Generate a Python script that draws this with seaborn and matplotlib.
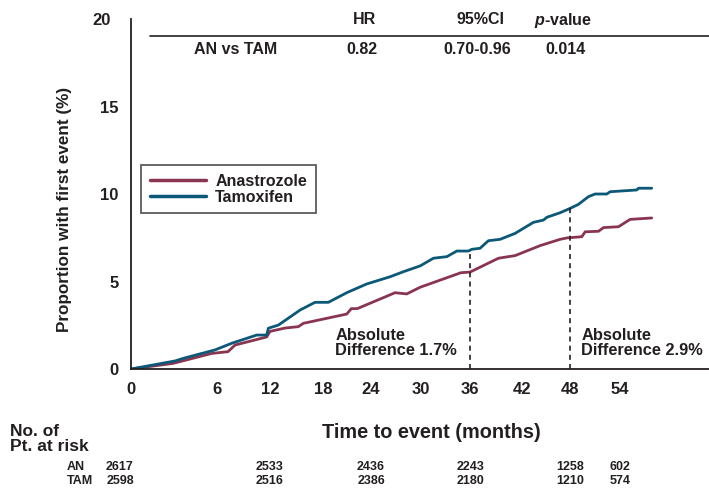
import numpy as np
import pandas as pd
import matplotlib
matplotlib.use("Agg")
import matplotlib.pyplot as plt
import matplotlib.lines as mlines
import matplotlib.transforms as mtransforms
from matplotlib import font_manager
import seaborn as sns

# ---------------- data ----------------
an_months = [0, 2.93, 5.63, 7.24, 8.04, 11.62, 12.0, 13.70, 15.2, 15.77, 20.96, 21.53, 22.28,
             26.88, 28.28, 29.88, 34.86, 36.0, 39.27, 41.19, 44.25, 46.75, 47.59, 49.4, 49.8,
             51.4, 52.0, 53.8, 55.2, 57.8]
an_values = [0, 0.32, 0.89, 0.99, 1.37, 1.83, 2.15, 2.34, 2.42, 2.61, 3.14, 3.45, 3.45,
             4.36, 4.29, 4.67, 5.50, 5.54, 6.33, 6.48, 7.05, 7.41, 7.49, 7.56, 7.84,
             7.87, 8.08, 8.13, 8.55, 8.63]
tam_months = [0, 3.07, 3.65, 5.86, 7.66, 10.49, 11.62, 11.81, 12.94, 13.89, 15.40, 17.09, 18.66,
              20.96, 23.46, 26.28, 27.88, 29.88, 31.51, 33.15, 34.37, 35.79, 36.20, 37.15, 38.11,
              39.46, 41.19, 43.41, 44.66, 45.09, 46.75, 48.0, 49.0, 50.2, 51.0, 52.4, 52.8,
              56.0, 56.2, 57.8]
tam_values = [0, 0.46, 0.61, 1.09, 1.47, 1.94, 1.94, 2.33, 2.51, 2.84, 3.37, 3.81, 3.81,
              4.36, 4.86, 5.27, 5.56, 5.89, 6.33, 6.42, 6.74, 6.74, 6.84, 6.90, 7.33,
              7.41, 7.75, 8.38, 8.51, 8.67, 8.93, 9.18, 9.41, 9.85, 10.0, 10.0, 10.13,
              10.23, 10.33, 10.33]

x_ticks = [0, 6, 12, 18, 24, 30, 36, 42, 48, 54]
y_ticks = [0, 5, 10, 15, 20]

diff_months = [36, 48]
diff_tops = [6.8, 9.2]
diff_labels = ["Absolute\nDifference 1.7%", "Absolute\nDifference 2.9%"]

risk_months = [0, 12, 24, 36, 48, 54]
risk_an = [2617, 2533, 2436, 2243, 1258, 602]
risk_tam = [2598, 2516, 2386, 2180, 1210, 574]

hdr_cols = ["HR", "95%CI", "$\\mathit{p}$-value"]
hdr_row = ["AN vs TAM", "0.82", "0.70-0.96", "0.014"]

arms = ["Anastrozole", "Tamoxifen"]
colors = {"Anastrozole": "#8a3550", "Tamoxifen": "#0c5878"}

# ---------------- style ----------------
sns.set_style("white")
avail = {f.name for f in font_manager.fontManager.ttflist}
main_font = "Liberation Sans Narrow" if "Liberation Sans Narrow" in avail else "Liberation Sans"
plt.rcParams["font.family"] = [main_font, "DejaVu Sans"]
plt.rcParams["font.weight"] = "bold"
plt.rcParams["mathtext.fontset"] = "custom"
plt.rcParams["mathtext.it"] = main_font + ":italic:bold"
TXT = "#231f20"

W, H = 709, 488
fig = plt.figure(figsize=(W / 100, H / 100), dpi=100)
ax = fig.add_axes([131 / W, 1 - 369 / H, (709 - 131) / W, 350 / H])

# non-uniform month axis of the original chart (function scale)
mk = [-60, 0, 6, 12, 18, 24, 30, 36, 42, 48, 54, 200]
pk = [-860, 0, 86, 139, 192, 240, 290, 339, 391, 439, 489, 489 + 146 * 8.3]
ax.set_xscale("function", functions=(lambda x: np.interp(x, mk, pk),
                                     lambda p: np.interp(p, pk, mk)))

df = pd.concat([
    pd.DataFrame({"month": an_months, "value": an_values, "arm": "Anastrozole"}),
    pd.DataFrame({"month": tam_months, "value": tam_values, "arm": "Tamoxifen"}),
], ignore_index=True)

sns.lineplot(data=df, x="month", y="value", hue="arm", hue_order=arms, palette=colors,
             estimator=None, sort=False, linewidth=2.0, ax=ax)

ax.set_xlim(0, 64.7)
ax.set_ylim(0, 20)
ax.set_xticks(x_ticks)
ax.set_yticks(y_ticks)
ax.set_xticklabels([str(t) for t in x_ticks])
ax.set_yticklabels([str(t) for t in y_ticks])
ax.tick_params(axis="x", direction="out", length=5, width=1.3, colors=TXT, labelsize=12, pad=4)
ax.tick_params(axis="y", direction="in", length=7, width=1.3, colors=TXT, labelsize=12, pad=9)
for lab in ax.get_xticklabels() + ax.get_yticklabels():
    lab.set_fontweight("bold")
sns.despine(ax=ax)
for s in ["left", "bottom"]:
    ax.spines[s].set_color(TXT)
    ax.spines[s].set_linewidth(1.3)

# the top (20) tick of the original points outward, like a cap
top_tick = ax.yaxis.get_major_ticks(len(y_ticks))[-1]
top_tick.tick1line.set_marker(mlines.TICKLEFT)
top_tick.tick1line.set_markersize(8)
top_tick.label1.set_transform(top_tick.label1.get_transform() +
                              mtransforms.ScaledTranslation(-8 / 100, 0, fig.dpi_scale_trans))

ax.set_xlabel("")
ax.set_ylabel("Proportion with first event (%)", fontsize=12.3, fontweight="bold", color=TXT)
ax.yaxis.set_label_coords((72 - 131) / 578, (369 - 209) / 350)

# dashed difference markers
ax.vlines(diff_months, 0, diff_tops, colors=TXT, linestyles=(0, (3, 2.5)), linewidth=1.2)
ax.text(36, 2.35, diff_labels[0], ha="left", va="top", fontsize=11.8, fontweight="bold",
        color=TXT, linespacing=1.0,
        transform=mtransforms.offset_copy(ax.transData, fig, x=-135, y=0, units="dots"))
ax.text(48, 2.35, diff_labels[1], ha="left", va="top", fontsize=11.8, fontweight="bold",
        color=TXT, linespacing=1.0,
        transform=mtransforms.offset_copy(ax.transData, fig, x=11, y=0, units="dots"))

# legend
leg = ax.legend(loc="upper left", bbox_to_anchor=(141 / W, 1 - 165 / H),
                bbox_transform=fig.transFigure, frameon=True, fancybox=False,
                edgecolor="#333333", fontsize=11.5, handlelength=3.5, handletextpad=0.6,
                labelspacing=0.05, borderpad=0.55, borderaxespad=0, title=None)
leg.get_frame().set_linewidth(1.3)
for t in leg.get_texts():
    t.set_fontweight("bold")
    t.set_color(TXT)
for l in leg.get_lines():
    l.set_linewidth(2.5)

# header table
fy = lambda py: 1 - py / H
fx = lambda px: px / W
for px, s in zip([364, 481, 563], hdr_cols):
    fig.text(fx(px), fy(20), s, ha="center", va="center", fontsize=11.5, fontweight="bold", color=TXT)
for px, s in zip([236, 362, 477, 566], hdr_row):
    fig.text(fx(px), fy(50), s, ha="center", va="center", fontsize=11.5, fontweight="bold", color=TXT)
fig.add_artist(plt.Line2D([fx(150), fx(709)], [fy(36), fy(36)], color=TXT, linewidth=1.2))

# x label and risk table
fig.text(fx(431), fy(433), "Time to event (months)", ha="center", va="center",
         fontsize=14.3, fontweight="bold", color=TXT)
fig.text(fx(10), fy(439), "No. of\nPt. at risk", ha="left", va="center",
         fontsize=12.5, fontweight="bold", color=TXT, linespacing=0.95)
fig.text(fx(67), fy(467), "AN", ha="left", va="center", fontsize=9, fontweight="bold", color=TXT)
fig.text(fx(67), fy(481), "TAM", ha="left", va="center", fontsize=9, fontweight="bold", color=TXT)
blend = mtransforms.blended_transform_factory(ax.transData, fig.transFigure)
for i, (m, a, t) in enumerate(zip(risk_months, risk_an, risk_tam)):
    tr = mtransforms.offset_copy(blend, fig, x=(-11 if i == 0 else 0), y=0, units="dots")
    ax.text(m, fy(467), str(a), ha="center", va="center", fontsize=9, fontweight="bold",
            color=TXT, transform=tr, clip_on=False)
    ax.text(m, fy(481), str(t), ha="center", va="center", fontsize=9, fontweight="bold",
            color=TXT, transform=tr, clip_on=False)

fig.savefig("out.png", dpi=100)
